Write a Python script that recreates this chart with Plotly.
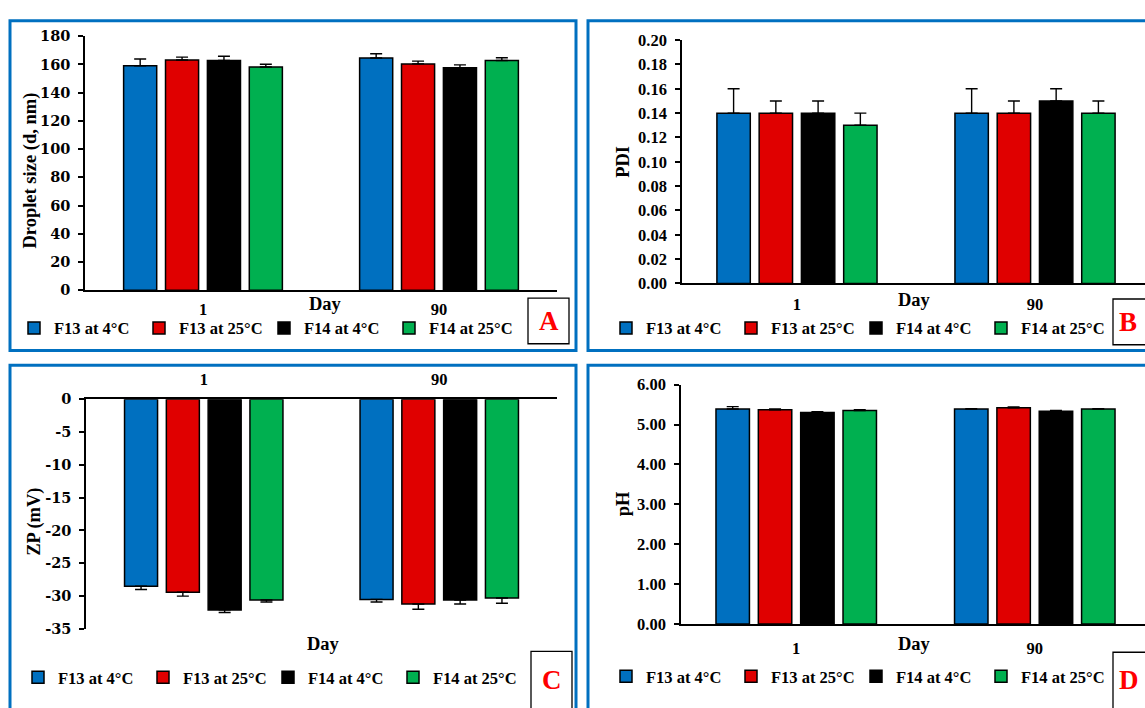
import plotly.graph_objects as go

W, H = 1145, 708

# ---------------- data ----------------
days = ["1", "90"]
series = ["F13 at 4°C", "F13 at 25°C", "F14 at 4°C", "F14 at 25°C"]
colors = ["#0070C0", "#E00000", "#000000", "#00B050"]

size_vals = [[159.1, 164.6], [163.2, 160.4], [162.8, 157.7], [158.2, 162.8]]
size_err = [[4.8, 3.0], [2.0, 2.0], [3.0, 2.0], [2.0, 2.0]]

pdi_vals = [[0.14, 0.14], [0.14, 0.14], [0.14, 0.15], [0.13, 0.14]]
pdi_err = [[0.02, 0.02], [0.01, 0.01], [0.01, 0.01], [0.01, 0.01]]

zp_vals = [[-28.5, -30.5], [-29.4, -31.2], [-32.1, -30.6], [-30.6, -30.3]]
zp_err = [[0.5, 0.4], [0.6, 0.8], [0.4, 0.6], [0.3, 0.8]]

ph_vals = [[5.39, 5.39], [5.37, 5.42], [5.30, 5.33], [5.35, 5.39]]
ph_err = [[0.06, 0.01], [0.02, 0.02], [0.02, 0.02], [0.02, 0.01]]

size_ticks = [0, 20, 40, 60, 80, 100, 120, 140, 160, 180]
pdi_ticks = [0.00, 0.02, 0.04, 0.06, 0.08, 0.10, 0.12, 0.14, 0.16, 0.18, 0.20]
zp_ticks = [0, -5, -10, -15, -20, -25, -30, -35]
ph_ticks = [0, 1, 2, 3, 4, 5, 6]

titles = ["Droplet size (d, nm)", "PDI", "ZP (mV)", "pH"]
panel_letters = ["A", "B", "C", "D"]
xlabel = "Day"

# ---------------- helpers ----------------
def px(x):
    return x / W

def py(y):
    return 1 - y / H

SERIF = "Liberation Serif"
WIDE = "DejaVu Serif"

panels = [
    dict(vals=size_vals, err=size_err, up=True),
    dict(vals=pdi_vals, err=pdi_err, up=True),
    dict(vals=zp_vals, err=zp_err, up=False),
    dict(vals=ph_vals, err=ph_err, up=True),
]

fig = go.Figure()
for p, pan in enumerate(panels):
    k = "" if p == 0 else str(p + 1)
    for i, name in enumerate(series):
        e = pan["err"][i]
        zeros = [0] * len(e)
        if pan["up"]:
            ey = dict(type="data", symmetric=False, array=e, arrayminus=zeros,
                      color="black", thickness=1.4, width=6)
        else:
            ey = dict(type="data", symmetric=False, array=zeros, arrayminus=e,
                      color="black", thickness=1.4, width=6)
        fig.add_trace(go.Bar(
            x=days, y=pan["vals"][i], name=name,
            marker=dict(color=colors[i], line=dict(color="black", width=1.5)),
            error_y=ey,
            xaxis="x" + k, yaxis="y" + k,
            legend="legend" + k,
            hoverinfo="skip",
        ))

# ---------------- axes ----------------
axis_common = dict(showline=True, linecolor="black", linewidth=1.5, showgrid=False,
                   zeroline=False, fixedrange=True)

def xax(x0, x1, yname, rng, side="bottom", standoff=6):
    return dict(domain=[px(x0), px(x1)], anchor=yname, type="category", range=rng,
                ticks="", ticklabelstandoff=standoff, side=side,
                tickfont=dict(family=SERIF, size=16.5, color="black", weight="bold"),
                **axis_common)

def yax(y_top, y_bot, xname, rng, tickvals, ticktext, font):
    return dict(domain=[py(y_bot), py(y_top)], anchor=xname, range=rng,
                tickvals=tickvals, ticktext=ticktext, ticks="outside", ticklen=5,
                tickwidth=1.5, tickcolor="black", ticklabelstandoff=5,
                tickfont=font, **axis_common)

wide_font = dict(family=WIDE, size=14.5, color="black", weight="bold")
serif_font = dict(family=SERIF, size=16.5, color="black", weight="bold")

fig.update_layout(
    xaxis=xax(85, 557, "y", [-0.5, 1.5], standoff=3),
    yaxis=yax(28, 289, "x", [0, 180], size_ticks, [str(v) for v in size_ticks], wide_font),
    xaxis2=xax(682, 1145, "y2", [-0.483, 1.462], standoff=5),
    yaxis2=yax(32, 282, "x2", [0, 0.2], pdi_ticks, [f"{v:.2f}" for v in pdi_ticks], serif_font),
    xaxis3=xax(86, 557, "y3", [-0.5, 1.5], side="top"),
    yaxis3=yax(401, 637, "x3", [-35, 0], zp_ticks, [str(v) for v in zp_ticks], wide_font),
    xaxis4=xax(681, 1145, "y4", [-0.483, 1.462], standoff=8),
    yaxis4=yax(386, 632, "x4", [0, 6], ph_ticks, [f"{v:.2f}" for v in ph_ticks], serif_font),
)

# ---------------- legends ----------------
def leg(x, y):
    return dict(orientation="h", x=px(x), y=py(y), xanchor="left", yanchor="middle",
                font=dict(family=SERIF, size=16.5, color="black", weight="bold"),
                entrywidth=80, entrywidthmode="pixels", bgcolor="rgba(0,0,0,0)",
                itemclick=False, itemdoubleclick=False, traceorder="normal",
                tracegroupgap=0, borderwidth=0)

fig.update_layout(
    legend=leg(14, 328),
    legend2=leg(606, 328),
    legend3=leg(18, 687),
    legend4=leg(606, 686),
)

# ---------------- decorations ----------------
shapes = []
blue = "#0070C0"
for (x0, y0, x1, y1) in [(10, 12, 576, 351), (588, 12, 1165, 351),
                         (10, 366, 576, 725), (588, 366, 1165, 725)]:
    shapes.append(dict(type="rect", xref="paper", yref="paper",
                       x0=px(x0), x1=px(x1), y0=py(y1), y1=py(y0),
                       line=dict(color=blue, width=3), layer="below"))

boxes = [(528, 297, 569, 344), (1113, 298, 1160, 345), (531, 660, 572, 720), (1113, 661, 1160, 720)]
for (x0, y0, x1, y1) in boxes:
    shapes.append(dict(type="rect", xref="paper", yref="paper",
                       x0=px(x0), x1=px(x1), y0=py(y1), y1=py(y0),
                       line=dict(color="black", width=1.3), fillcolor="white", layer="above"))

annotations = []
letter_pos = [(549, 321, "center"), (1117, 322, "left"), (552, 689, "center"), (1117, 689, "left")]
for (x, y, anc), letter in zip(letter_pos, panel_letters):
    annotations.append(dict(text=letter, x=px(x), y=py(y), xref="paper", yref="paper",
                            xanchor=anc, yanchor="middle", showarrow=False,
                            font=dict(family=SERIF, size=27, color="#FF0000", weight="bold")))

title_pos = [(31, 166), (623, 157), (35, 527), (623, 509)]
for (x, y), t in zip(title_pos, titles):
    annotations.append(dict(text=t, x=px(x), y=py(y), xref="paper", yref="paper",
                            xanchor="center", yanchor="middle", showarrow=False, textangle=-90,
                            font=dict(family=SERIF, size=18.5, color="black", weight="bold")))

day_pos = [(325, 303), (914, 299), (323, 652), (914, 652)]
for (x, y) in day_pos:
    annotations.append(dict(text=xlabel, x=px(x), y=py(y), xref="paper", yref="paper",
                            xanchor="center", yanchor="middle", showarrow=False,
                            font=dict(family=SERIF, size=18.5, color="black", weight="bold")))

fig.update_layout(
    width=W, height=H, margin=dict(l=0, r=0, t=0, b=0),
    paper_bgcolor="white", plot_bgcolor="white",
    barmode="group", bargap=0.29, bargroupgap=0.21,
    shapes=shapes, annotations=annotations,
    showlegend=True,
)

fig.write_html(
    "out.html",
    config={"displayModeBar": False},
    post_script="document.body.style.margin='0px';document.body.style.overflow='hidden';",
)
